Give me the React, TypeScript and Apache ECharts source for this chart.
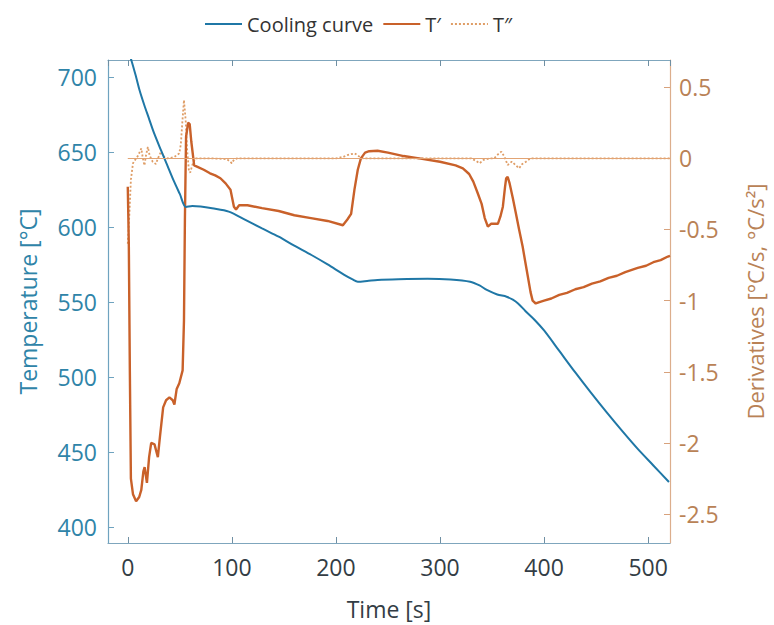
import React, { useEffect, useRef } from "react";
import * as echarts from "echarts";

// Cooling curve (left axis, °C)
const coolingTime = [0, 3.5, 8, 11.4, 16, 20, 25, 32, 38, 44, 50, 55.9, 62, 70, 81, 97, 113, 129, 145, 160, 176.5, 192, 208, 216, 221, 230, 240, 260, 288, 310, 329, 338, 345, 355, 364, 370, 375, 382, 391, 400, 415, 430, 445, 460, 475, 490, 505, 520];
const coolingTemp = [718, 711, 700, 691, 681, 673, 663, 651, 641, 631, 622, 613.3, 614, 613.6, 612.4, 610.2, 604.7, 599, 593.5, 587.5, 581.3, 575, 568, 565, 563.5, 564, 564.7, 565.2, 565.5, 565, 563.5, 561, 558, 555, 553.5, 551.5, 549, 544, 538, 531, 517, 503, 489.5, 476.5, 464, 452, 441, 430];

// T' first derivative (right axis, °C/s)
const d1Time = [0, 1, 2, 3, 5, 8, 11, 13, 15, 16.2, 18.4, 20.5, 22.5, 25.7, 28.9, 31, 34, 36.8, 40, 43.2, 44.8, 47, 49.5, 52.7, 54, 54.9, 56, 58, 59.5, 61, 63.8, 67, 73, 79, 84, 89, 94, 98.7, 102, 104, 107, 115, 129, 145, 160, 176, 192, 206.7, 211, 214.6, 217.8, 221, 224, 228, 232, 240, 250, 265, 280, 300, 315, 322, 328, 332, 336, 340, 343, 346, 349, 351, 355.6, 358, 360.4, 362.5, 363.6, 365, 366.9, 370, 373, 376, 379.4, 382, 384.4, 387, 389, 392, 395.5, 400, 407, 414.6, 422, 430, 438, 446, 454, 462, 470, 478, 490, 498, 505, 512, 519, 521];
const d1Val = [-0.2, -0.6, -1.5, -2.25, -2.36, -2.41, -2.38, -2.33, -2.2, -2.17, -2.28, -2.1, -2.0, -2.01, -2.1, -1.95, -1.75, -1.7, -1.68, -1.7, -1.73, -1.62, -1.58, -1.49, -1.14, -0.43, 0.15, 0.25, 0.24, 0.12, -0.05, -0.06, -0.08, -0.105, -0.12, -0.14, -0.176, -0.22, -0.34, -0.36, -0.33, -0.33, -0.35, -0.37, -0.4, -0.42, -0.44, -0.47, -0.43, -0.39, -0.22, -0.08, 0.0, 0.04, 0.05, 0.053, 0.04, 0.016, 0.0, -0.024, -0.05, -0.07, -0.11, -0.164, -0.24, -0.32, -0.42, -0.48, -0.46, -0.46, -0.46, -0.41, -0.34, -0.2, -0.14, -0.13, -0.176, -0.28, -0.39, -0.5, -0.62, -0.73, -0.83, -0.94, -1.0, -1.02, -1.01, -1.0, -0.985, -0.96, -0.945, -0.92, -0.905, -0.88, -0.865, -0.84, -0.825, -0.8, -0.77, -0.755, -0.73, -0.715, -0.69, -0.685];

// T'' second derivative (right axis, °C/s²)
const d2Time = [0, 1.5, 3, 5, 8, 10, 13, 14.5, 16, 17.5, 19.3, 21, 24, 27, 29, 32, 35, 38, 42, 44.8, 49.5, 51, 52.4, 54, 55.6, 57, 58.8, 60, 62, 65, 80, 95, 98, 100, 102, 105, 200, 207, 211, 218, 222, 226, 330, 335, 338, 342, 347.6, 352, 356, 359, 362, 365, 369, 373, 376, 379, 382.6, 387, 521];
const d2Val = [-0.6, -0.4, -0.15, -0.035, 0.0, 0.02, 0.07, 0.0, -0.05, 0.02, 0.08, 0.02, -0.025, -0.04, 0.0, 0.047, 0.01, 0.0, 0.005, 0.01, 0.035, 0.1, 0.25, 0.41, 0.27, 0.06, -0.09, -0.1, -0.047, 0.0, 0.0, -0.005, -0.02, -0.035, -0.01, 0.0, 0.0, 0.01, 0.023, 0.035, 0.015, 0.0, 0.0, -0.02, -0.035, -0.01, 0.0, 0.0, 0.03, 0.047, 0.01, -0.047, -0.023, -0.05, -0.07, -0.04, -0.024, 0.0, 0.0];

const legendNames = ["Cooling curve", "T\u2032", "T\u2033"];

const BLUE = "#1f77a6";
const ORANGE = "#c9612a";
const TAN = "#df9d66";
const LEFT_TXT = "#2f84a8";
const RIGHT_TXT = "#b98256";
const FONT = "Open Sans";
const TICK_FS = 23;
const NAME_FS = 23;

export default function App() {
  const ref = useRef<HTMLDivElement>(null);
  useEffect(() => {
    const chart = echarts.init(ref.current!, null, { renderer: "svg" });
    const zip = (a: number[], b: number[]) => a.map((t, i) => [t, b[i]]);
    const xBase = {
      type: "value",
      min: -19,
      max: 521,
      splitLine: { show: false },
    };
    chart.setOption({
      animation: false,
      backgroundColor: "#ffffff",
      textStyle: { fontFamily: FONT },
      legend: {
        data: legendNames,
        top: 9,
        left: 199,
        itemWidth: 37,
        itemHeight: 2,
        itemGap: 9,
        itemStyle: { color: "rgba(0,0,0,0)", borderWidth: 0 },
        textStyle: { fontSize: 20, color: "#333333", fontFamily: FONT },
      },
      grid: { left: 108, right: 99, top: 60, bottom: 82, containLabel: false },
      xAxis: [
        {
          ...xBase,
          position: "bottom",
          name: "Time [s]",
          nameLocation: "middle",
          nameGap: 54,
          nameTextStyle: { fontSize: NAME_FS, color: "#333d45", fontFamily: FONT },
          axisLine: { show: true, onZero: false, lineStyle: { color: "#7fa6bd", width: 1.2 } },
          axisTick: { show: true, inside: true, length: 6, lineStyle: { color: "#6f8fa3" } },
          axisLabel: {
            fontSize: TICK_FS,
            color: "#333d45",
            margin: 12,
            showMinLabel: false,
            showMaxLabel: false,
            fontFamily: FONT,
          },
        },
        {
          ...xBase,
          position: "top",
          axisLine: { show: true, onZero: false, lineStyle: { color: "#7fa6bd", width: 1.2 } },
          axisTick: { show: true, inside: true, length: 6, lineStyle: { color: "#6f8fa3" } },
          axisLabel: { show: false },
        },
      ],
      yAxis: [
        {
          type: "value",
          min: 389.3,
          max: 711.3,
          position: "left",
          name: "Temperature [°C]",
          nameLocation: "middle",
          nameRotate: 90,
          nameGap: 69,
          nameTextStyle: { fontSize: NAME_FS, color: LEFT_TXT, fontFamily: FONT },
          splitLine: { show: false },
          axisLine: { show: true, onZero: false, lineStyle: { color: "#6fa3bf", width: 1.2 } },
          axisTick: { show: true, inside: true, length: 6, lineStyle: { color: "#6fa3bf" } },
          axisLabel: {
            fontSize: TICK_FS,
            color: LEFT_TXT,
            margin: 11,
            showMinLabel: false,
            showMaxLabel: false,
            fontFamily: FONT,
          },
        },
        {
          type: "value",
          min: -2.703,
          max: 0.691,
          position: "right",
          name: "Derivatives [°C/s, °C/s²]",
          nameLocation: "middle",
          nameRotate: 90,
          nameGap: 74,
          nameTextStyle: { fontSize: 22, color: RIGHT_TXT, fontFamily: FONT },
          splitLine: { show: false },
          axisLine: { show: true, onZero: false, lineStyle: { color: "#dcae8c", width: 1.2 } },
          axisTick: { show: true, inside: true, length: 6, lineStyle: { color: "#d8a27c" } },
          axisLabel: {
            fontSize: TICK_FS,
            color: RIGHT_TXT,
            margin: 9,
            showMinLabel: false,
            showMaxLabel: false,
            fontFamily: FONT,
          },
        },
      ],
      series: [
        {
          name: legendNames[2],
          type: "line",
          xAxisIndex: 0,
          yAxisIndex: 1,
          symbol: "none",
          data: zip(d2Time, d2Val),
          lineStyle: { color: TAN, width: 1.8, type: [2, 2] },
          itemStyle: { color: TAN },
          z: 2,
          markLine: {
            silent: true,
            symbol: ["none", "none"],
            label: { show: false },
            lineStyle: { type: "solid", width: 1.2, color: "#e2a474" },
            data: [[{ coord: [0, 0] }, { coord: [521, 0] }]],
          },
        },
        {
          name: legendNames[1],
          type: "line",
          xAxisIndex: 0,
          yAxisIndex: 1,
          symbol: "none",
          data: zip(d1Time, d1Val),
          lineStyle: { color: ORANGE, width: 2.4 },
          itemStyle: { color: ORANGE },
          z: 3,
        },
        {
          name: legendNames[0],
          type: "line",
          xAxisIndex: 0,
          yAxisIndex: 0,
          symbol: "none",
          smooth: 0.3,
          data: zip(coolingTime, coolingTemp),
          lineStyle: { color: BLUE, width: 2 },
          itemStyle: { color: BLUE },
          z: 4,
        },
      ],
    });
    return () => chart.dispose();
  }, []);
  return (
    <div
      ref={ref}
      style={{ position: "fixed", left: 0, top: 0, width: 774, height: 625, background: "#fff" }}
    />
  );
}
